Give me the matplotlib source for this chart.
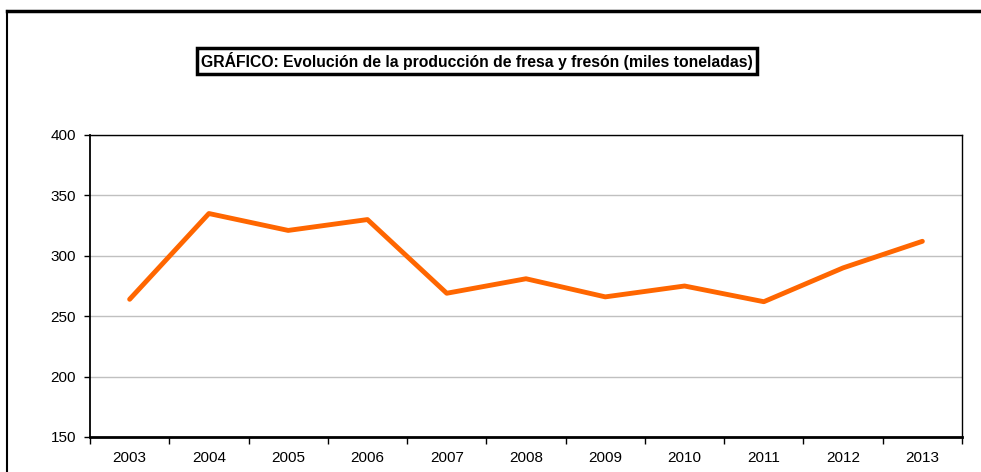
import numpy as np
import matplotlib.pyplot as plt
from matplotlib.lines import Line2D

plt.rcParams['font.family'] = ['Liberation Sans', 'DejaVu Sans']

years = ['2003', '2004', '2005', '2006', '2007', '2008', '2009', '2010', '2011', '2012', '2013']
produccion = [264, 335, 321, 330, 269, 281, 266, 275, 262, 290, 312]
yticks = [150, 200, 250, 300, 350, 400]

fig = plt.figure(figsize=(9.81, 4.72), dpi=100)
ax = fig.add_axes([90/981, 35/472, 872/981, 302/472])

x = np.arange(len(years)) + 0.5
ax.plot(x, produccion, color='#FF6600', lw=3.5, solid_capstyle='round', zorder=3)

ax.set_xlim(0, len(years))
ax.set_ylim(150, 400)
ax.set_yticks(yticks)
ax.set_yticklabels([str(v) for v in yticks], fontsize=11)
ax.yaxis.grid(True, color='#c0c0c0', lw=1)
ax.set_axisbelow(True)

ax.set_xticks(np.arange(len(years) + 1))
ax.set_xticklabels([])
ax.set_xticks(x, minor=True)
ax.set_xticklabels(years, minor=True, fontsize=11)
ax.tick_params(axis='x', which='minor', length=0, pad=10)
ax.tick_params(axis='x', which='major', length=5, width=1, direction='out')
ax.tick_params(axis='y', length=4, width=1, direction='out', pad=6)

for s in ['top', 'right']:
    ax.spines[s].set_linewidth(1)
ax.spines['left'].set_linewidth(1.3)
ax.spines['bottom'].set_linewidth(2)

# marco exterior
fig.add_artist(Line2D([7/981, 1], [1 - 11/472, 1 - 11/472], color='black', lw=2.5, transform=fig.transFigure))
fig.add_artist(Line2D([7/981, 7/981], [0, 1 - 11/472], color='black', lw=1.5, transform=fig.transFigure))

fig.text(477/981, 1 - 61/472, 'GRÁFICO: Evolución de la producción de fresa y fresón (miles toneladas)',
         ha='center', va='center', fontsize=11.3, fontweight='bold',
         bbox=dict(boxstyle='square,pad=0.25', facecolor='white', edgecolor='black', lw=2.5))

fig.savefig('out.png', dpi=100)
